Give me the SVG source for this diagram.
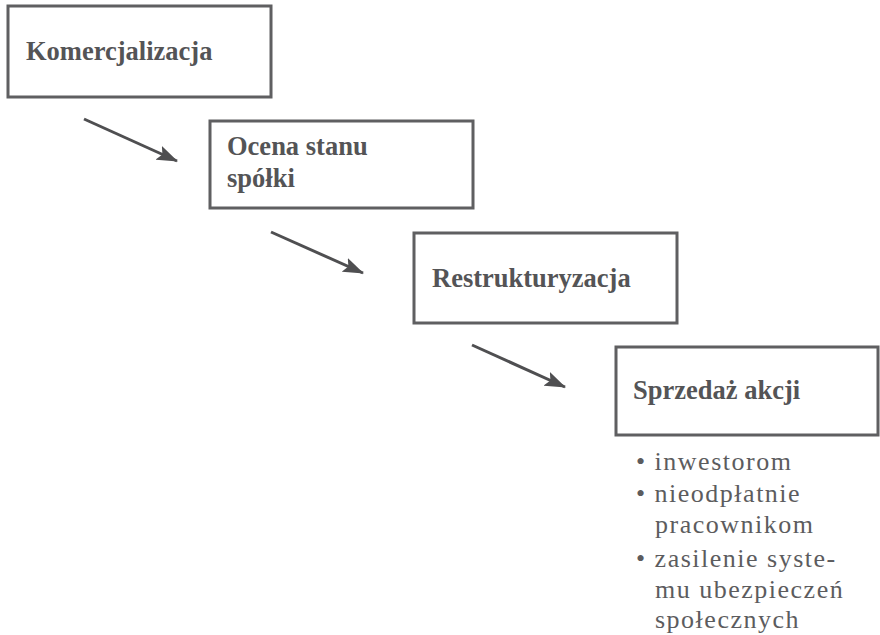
<svg xmlns="http://www.w3.org/2000/svg" width="880" height="635" viewBox="0 0 880 635">
  <style>
    .box { fill: #ffffff; stroke: #5f5f61; stroke-width: 3; }
    .title { font-family: "Liberation Serif", "Times New Roman", serif; font-weight: bold; font-size: 26.5px; fill: #545456; }
    .item { font-family: "Liberation Serif", "Times New Roman", serif; font-size: 26px; letter-spacing: 1.5px; fill: #5c5c5e; }
    .link { stroke: #4f4f51; stroke-width: 3; fill: none; marker-end: url(#head); }
  </style>
  <defs>
    <marker id="head" markerWidth="21" markerHeight="15" refX="20" refY="7.5" orient="auto" markerUnits="userSpaceOnUse" viewBox="0 0 21 15">
      <path d="M0,0 L21,7.5 L0,15 L4,7.5 Z" fill="#4f4f51"/>
    </marker>
  </defs>
  <rect width="880" height="635" fill="#ffffff"/>

  <g id="komercjalizacja">
    <rect class="box" x="8" y="6" width="263" height="91"/>
    <text class="title" x="26" y="60">Komercjalizacja</text>
  </g>

  <g id="ocena">
    <rect class="box" x="210" y="121" width="263" height="87"/>
    <text class="title" x="227" y="155">Ocena stanu</text>
    <text class="title" x="227" y="187">spółki</text>
  </g>

  <g id="restrukturyzacja">
    <rect class="box" x="414" y="233" width="263" height="90"/>
    <text class="title" x="432" y="287">Restrukturyzacja</text>
  </g>

  <g id="sprzedaz">
    <rect class="box" x="616" y="347" width="262" height="88"/>
    <text class="title" x="633" y="399">Sprzedaż akcji</text>
    <g class="item">
      <text x="636" y="470">• inwestorom</text>
      <text x="636" y="502">• nieodpłatnie</text>
      <text x="655" y="533">pracownikom</text>
      <text x="636" y="567">• zasilenie syste-</text>
      <text x="655" y="598">mu ubezpieczeń</text>
      <text x="655" y="628">społecznych</text>
    </g>
  </g>

  <g id="connectors">
    <line class="link" x1="84" y1="119" x2="177" y2="161"/>
    <line class="link" x1="271" y1="232" x2="363" y2="273"/>
    <line class="link" x1="472" y1="345" x2="565" y2="387"/>
  </g>
</svg>
